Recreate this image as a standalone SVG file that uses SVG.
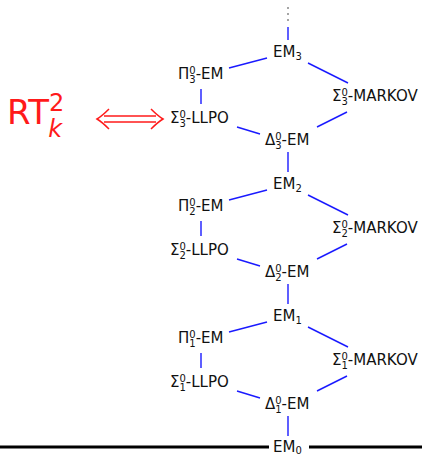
<svg xmlns="http://www.w3.org/2000/svg" width="422" height="454" viewBox="0 0 422 454">
<style>
text{font-family:"DejaVu Sans",sans-serif;font-size:15px;fill:#111}
.s{font-size:10px}
.c line{stroke:#1a1aff;stroke-width:1.4}
.red{fill:#ff1a1a}
</style>
<rect width="422" height="454" fill="#fff"/>
<g id="dots" fill="#333"><circle cx="288" cy="8" r="0.8"/><circle cx="288" cy="14" r="0.8"/><circle cx="288" cy="20" r="0.8"/></g>
<g class="c" id="connectors">
<line x1="288" y1="27" x2="288" y2="40"/>
<g id="lvl3">
<line x1="229" y1="68" x2="267" y2="58"/><line x1="308" y1="63" x2="348" y2="83"/><line x1="201" y1="89" x2="201" y2="104"/><line x1="237" y1="127" x2="260" y2="134"/><line x1="347" y1="112" x2="317" y2="127"/><line x1="288" y1="152" x2="288" y2="172"/>
</g>
<g transform="translate(0,132)">
<line x1="229" y1="68" x2="267" y2="58"/><line x1="308" y1="63" x2="348" y2="83"/><line x1="201" y1="89" x2="201" y2="104"/><line x1="237" y1="127" x2="260" y2="134"/><line x1="347" y1="112" x2="317" y2="127"/><line x1="288" y1="152" x2="288" y2="172"/>
</g>
<g transform="translate(0,264)">
<line x1="229" y1="68" x2="267" y2="58"/><line x1="308" y1="63" x2="348" y2="83"/><line x1="201" y1="89" x2="201" y2="104"/><line x1="237" y1="127" x2="260" y2="134"/><line x1="347" y1="112" x2="317" y2="127"/><line x1="288" y1="152" x2="288" y2="172"/>
</g>
</g>
<g id="baseline" stroke="#000" stroke-width="3"><line x1="0" y1="447" x2="269" y2="447"/><line x1="309" y1="447" x2="422" y2="447"/></g>

<g id="EM3"><text x="273" y="57">EM<tspan class="s" dy="3">3</tspan></text></g>
<g id="Pi3-EM"><text x="178" y="79">Π<tspan class="s" dy="-5">0</tspan><tspan class="s" dx="-6.4" dy="9">3</tspan><tspan dy="-4">-EM</tspan></text></g>
<g id="Sigma3-MARKOV"><text x="332" y="101">Σ<tspan class="s" dy="-5">0</tspan><tspan class="s" dx="-6.4" dy="9">3</tspan><tspan dy="-4">-MARKOV</tspan></text></g>
<g id="Sigma3-LLPO"><text x="170" y="123">Σ<tspan class="s" dy="-5">0</tspan><tspan class="s" dx="-6.4" dy="9">3</tspan><tspan dy="-4">-LLPO</tspan></text></g>
<g id="Delta3-EM"><text x="265" y="145">Δ<tspan class="s" dy="-5">0</tspan><tspan class="s" dx="-6.4" dy="9">3</tspan><tspan dy="-4">-EM</tspan></text></g>

<g id="EM2"><text x="273" y="189">EM<tspan class="s" dy="3">2</tspan></text></g>
<g id="Pi2-EM"><text x="178" y="211">Π<tspan class="s" dy="-5">0</tspan><tspan class="s" dx="-6.4" dy="9">2</tspan><tspan dy="-4">-EM</tspan></text></g>
<g id="Sigma2-MARKOV"><text x="332" y="233">Σ<tspan class="s" dy="-5">0</tspan><tspan class="s" dx="-6.4" dy="9">2</tspan><tspan dy="-4">-MARKOV</tspan></text></g>
<g id="Sigma2-LLPO"><text x="170" y="255">Σ<tspan class="s" dy="-5">0</tspan><tspan class="s" dx="-6.4" dy="9">2</tspan><tspan dy="-4">-LLPO</tspan></text></g>
<g id="Delta2-EM"><text x="265" y="277">Δ<tspan class="s" dy="-5">0</tspan><tspan class="s" dx="-6.4" dy="9">2</tspan><tspan dy="-4">-EM</tspan></text></g>

<g id="EM1"><text x="273" y="321">EM<tspan class="s" dy="3">1</tspan></text></g>
<g id="Pi1-EM"><text x="178" y="343">Π<tspan class="s" dy="-5">0</tspan><tspan class="s" dx="-6.4" dy="9">1</tspan><tspan dy="-4">-EM</tspan></text></g>
<g id="Sigma1-MARKOV"><text x="332" y="365">Σ<tspan class="s" dy="-5">0</tspan><tspan class="s" dx="-6.4" dy="9">1</tspan><tspan dy="-4">-MARKOV</tspan></text></g>
<g id="Sigma1-LLPO"><text x="170" y="387">Σ<tspan class="s" dy="-5">0</tspan><tspan class="s" dx="-6.4" dy="9">1</tspan><tspan dy="-4">-LLPO</tspan></text></g>
<g id="Delta1-EM"><text x="265" y="409">Δ<tspan class="s" dy="-5">0</tspan><tspan class="s" dx="-6.4" dy="9">1</tspan><tspan dy="-4">-EM</tspan></text></g>

<g id="EM0"><text x="273" y="452">EM<tspan class="s" dy="2">0</tspan></text></g>

<g id="RT">
<text x="7" y="124" class="red" style="font-size:34px">RT<tspan style="font-size:24px" dy="-13">2</tspan><tspan style="font-size:24px;font-style:italic" dx="-16" dy="26">k</tspan></text>
</g>
<g id="iff" fill="none" stroke="#ff1a1a" stroke-width="1.5">
<line x1="104" y1="116" x2="156" y2="116"/><line x1="104" y1="122" x2="156" y2="122"/>
<path d="M109 109 Q102 116 97 119 Q102 122 109 129"/>
<path d="M151 109 Q158 116 163 119 Q158 122 151 129"/>
</g>
</svg>
